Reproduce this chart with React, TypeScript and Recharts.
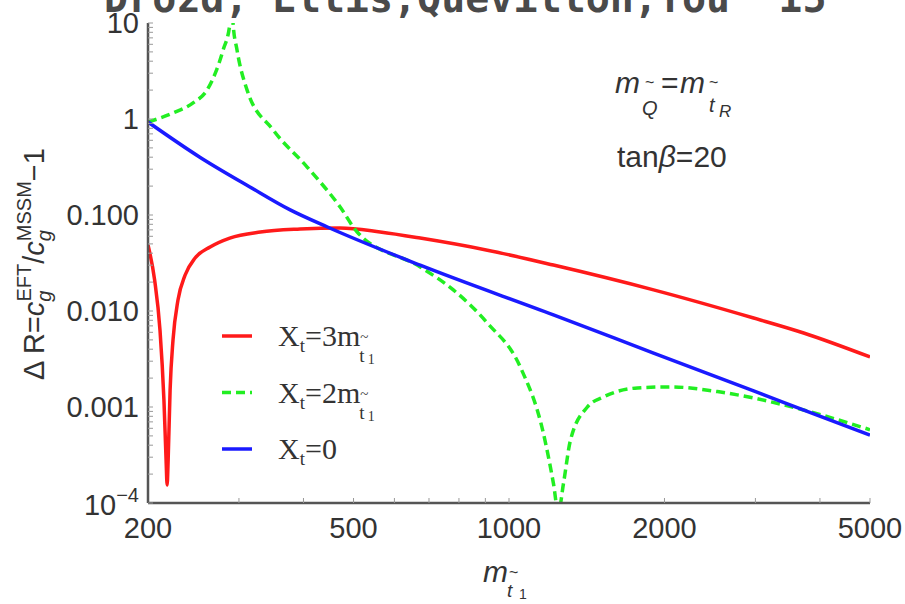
import React from "react";
import { LineChart, Line, XAxis, YAxis, Legend } from "recharts";

// tick values
const xMajor = [200, 500, 1000, 2000, 5000];
const xMinor = [300, 400, 600, 700, 800, 900, 3000, 4000];
const yMajor = [0.0001, 0.001, 0.01, 0.1, 1, 10];
const yMajorLabels = ["10-4", "0.001", "0.010", "0.100", "1", "10"];
const yMinor = [0.0001, 0.001, 0.01, 0.1, 1].flatMap((d) =>
  [2, 3, 4, 5, 6, 7, 8, 9].map((k) => +(d * k).toPrecision(3))
);

// Xt = 3 m_stop1  (red)
const redMass = [200, 206, 211, 214.7, 216.8, 217.8, 218.8, 220.7, 223.6, 228.6, 236, 246.7, 263.8, 288, 330, 394, 471, 563, 673, 908, 1219, 1905, 2976, 3720, 5000];
const redDelta = [0.0487, 0.021, 0.0063, 0.0012, 0.00028, 0.000154, 0.00028, 0.0015, 0.005, 0.013, 0.0237, 0.0356, 0.0464, 0.0575, 0.0665, 0.0714, 0.0732, 0.0665, 0.0575, 0.043, 0.0301, 0.0166, 0.00845, 0.0059, 0.00332];

// Xt = 2 m_stop1  (green, dashed)
const greenMass = [200, 223.6, 244.5, 260.2, 270, 279.5, 288.3, 290, 292.2, 297.5, 311.1, 349.3, 406.6, 471.1, 508.2, 673.4, 780.1, 907.8, 1052, 1165, 1219, 1246, 1275, 1315, 1418, 1523, 1773, 2054, 2569, 2976, 3720, 5000];
const greenDelta = [0.93, 1.155, 1.47, 2.0, 3.0, 5.2, 10, 30, 10, 5.2, 2.0, 0.77, 0.316, 0.121, 0.0665, 0.0287, 0.0166, 0.0075, 0.0026, 0.00054, 0.00016, 0.00008, 0.00016, 0.00045, 0.001, 0.00127, 0.00158, 0.00162, 0.00143, 0.00124, 0.00093, 0.00058];

// Xt = 0  (blue)
const blueMass = [200, 252, 315, 377, 445, 673, 1219, 1905, 2976, 4008, 5000];
const blueDelta = [0.93, 0.4, 0.196, 0.113, 0.075, 0.03, 0.0091, 0.00365, 0.00147, 0.0008, 0.00051];

const toRows = (ms: number[], vs: number[]) => ms.map((m, i) => ({ m, v: vs[i] }));
const redRows = toRows(redMass, redDelta);
const greenRows = toRows(greenMass, greenDelta);
const blueRows = toRows(blueMass, blueDelta);

const frame = "#555";
const textColor = "#333";
const sans = "'Liberation Sans', Arial, sans-serif";
const serif = "'Liberation Serif', 'Times New Roman', serif";

const XTick = (props: any) => {
  const { x, y, payload } = props;
  if (!xMajor.includes(payload.value)) return <g />;
  return (
    <text x={x} y={y + 35} textAnchor="middle" fontFamily={sans} fontSize={29} fill={textColor}>
      {payload.value}
    </text>
  );
};

const YTick = (props: any) => {
  const { x, y, payload } = props;
  const i = yMajor.indexOf(payload.value);
  if (i < 0) return <g />;
  if (i === 0) {
    return (
      <text x={x} y={y + 12} textAnchor="end" fontFamily={sans} fontSize={29} fill={textColor}>
        10<tspan fontSize={20} dy={-13}>−4</tspan>
      </text>
    );
  }
  return (
    <text x={x} y={y + 10} textAnchor="end" fontFamily={sans} fontSize={29} fill={textColor}>
      {yMajorLabels[i]}
    </text>
  );
};

const legendRows = [
  { color: "#ff1a1a", dash: undefined, label: "3m" },
  { color: "#22ee22", dash: "9 5", label: "2m" },
  { color: "#1a1aff", dash: undefined, label: "0" },
];

const LegendBox = () => (
  <svg width={200} height={170}>
    {legendRows.map((r, i) => {
      const cy = 20 + i * 56.5;
      return (
        <g key={i}>
          <line x1={8} x2={38} y1={cy} y2={cy} stroke={r.color} strokeWidth={3.5} strokeDasharray={r.dash} />
          <text x={64} y={cy + 10} fontFamily={serif} fontSize={30} fill={textColor}>
            X<tspan fontSize={19} dy={6}>t</tspan>
            <tspan dy={-6}>={r.label}</tspan>
            {r.label !== "0" && (
              <>
                <tspan fontSize={15} dy={-4}>~</tspan>
                <tspan fontSize={19} dx={-9} dy={20}>t</tspan>
                <tspan fontSize={14} dx={3} dy={2}>1</tspan>
              </>
            )}
          </text>
        </g>
      );
    })}
  </svg>
);

export default function App() {
  return (
    <div style={{ position: "absolute", left: 0, top: 0, width: 905, height: 604, overflow: "hidden", background: "#fff" }}>
      <LineChart width={905} height={604} margin={{ top: 23, right: 35, bottom: 71, left: 88 }}>
        <XAxis
          type="number"
          dataKey="m"
          scale="log"
          domain={[200, 5000]}
          allowDataOverflow
          ticks={[...xMajor, ...xMinor]}
          height={30}
          tick={XTick}
          tickSize={-5}
          tickMargin={5}
          tickLine={{ stroke: "#999" }}
          axisLine={{ stroke: frame, strokeWidth: 2.5 }}
          interval={0}
        />
        <XAxis
          xAxisId="top"
          orientation="top"
          type="number"
          dataKey="m"
          scale="log"
          domain={[200, 5000]}
          allowDataOverflow
          ticks={[...xMajor, ...xMinor]}
          height={0}
          tick={false}
          tickSize={-5}
          tickLine={{ stroke: "#999" }}
          axisLine={{ stroke: frame, strokeWidth: 2.5 }}
          interval={0}
        />
        <YAxis
          type="number"
          scale="log"
          domain={[0.0001, 10]}
          allowDataOverflow
          ticks={[...yMajor, ...yMinor]}
          width={60}
          tick={YTick}
          tickSize={-5}
          tickMargin={14}
          tickLine={{ stroke: "#999" }}
          axisLine={{ stroke: frame, strokeWidth: 2.5 }}
          interval={0}
        />
        <YAxis
          yAxisId="right"
          orientation="right"
          type="number"
          scale="log"
          domain={[0.0001, 10]}
          allowDataOverflow
          ticks={[...yMajor, ...yMinor]}
          width={0}
          tick={false}
          tickSize={-5}
          tickLine={{ stroke: "#999" }}
          axisLine={{ stroke: frame, strokeWidth: 2.5 }}
          interval={0}
        />
        <Legend
          layout="vertical"
          align="center"
          verticalAlign="middle"
          wrapperStyle={{ left: 214, top: 316, width: 200, height: 170 }}
          content={() => <LegendBox />}
        />
        <Line data={redRows} dataKey="v" name="Xt=3m" type="monotone" stroke="#ff1a1a" strokeWidth={3.5} dot={false} isAnimationActive={false} />
        <Line data={greenRows} dataKey="v" name="Xt=2m" type="monotone" stroke="#22ee22" strokeWidth={3.5} strokeDasharray="9 5" dot={false} isAnimationActive={false} />
        <Line data={blueRows} dataKey="v" name="Xt=0" type="monotone" stroke="#1a1aff" strokeWidth={3.5} dot={false} isAnimationActive={false} />
      </LineChart>

      <svg width={905} height={604} style={{ position: "absolute", left: 0, top: 0, pointerEvents: "none" }}>
        <text x={104} y={12} fontFamily="'DejaVu Sans Mono', monospace" fontWeight="bold" fontSize={40} fill="#4a4a4a">
          Drozd, Ellis,Quevillon,You '15
        </text>

        <text transform="translate(44,264) rotate(-90)" textAnchor="middle" fontFamily={sans} fontSize={29} fill={textColor}>
          Δ R=<tspan fontStyle="italic">c</tspan>
          <tspan fontSize={20} fontStyle="italic" dy={7}>g</tspan>
          <tspan fontSize={20} dx={-11} dy={-20}>EFT</tspan>
          <tspan dy={13}>/</tspan>
          <tspan fontStyle="italic">c</tspan>
          <tspan fontSize={20} fontStyle="italic" dy={7}>g</tspan>
          <tspan fontSize={20} dx={-11} dy={-20}>MSSM</tspan>
          <tspan dy={13}>−1</tspan>
        </text>

        <text x={483} y={582} fontFamily={sans} fontStyle="italic" fontSize={30} fill={textColor}>m</text>
        <text x={509} y={578} fontFamily={sans} fontSize={16} fill={textColor}>~</text>
        <text x={507} y={597} fontFamily={sans} fontStyle="italic" fontSize={19} fill={textColor}>t</text>
        <text x={519} y={599} fontFamily={sans} fontSize={14} fill={textColor}>1</text>

        <text x={615} y={93} fontFamily={sans} fontStyle="italic" fontSize={30} fill={textColor}>m</text>
        <text x={645} y={88} fontFamily={sans} fontSize={16} fill={textColor}>~</text>
        <text x={642} y={115} fontFamily={sans} fontStyle="italic" fontSize={20} fill={textColor}>Q</text>
        <text x={661} y={93} fontFamily={sans} fontSize={30} fill={textColor}>=</text>
        <text x={680} y={93} fontFamily={sans} fontStyle="italic" fontSize={30} fill={textColor}>m</text>
        <text x={709} y={88} fontFamily={sans} fontSize={16} fill={textColor}>~</text>
        <text x={709} y={112} fontFamily={sans} fontStyle="italic" fontSize={20} fill={textColor}>t</text>
        <text x={719} y={117} fontFamily={sans} fontStyle="italic" fontSize={17} fill={textColor}>R</text>

        <text x={617} y={167} fontFamily={sans} fontSize={30} fill={textColor}>
          tan<tspan fontStyle="italic">β</tspan>=20
        </text>
      </svg>
    </div>
  );
}
